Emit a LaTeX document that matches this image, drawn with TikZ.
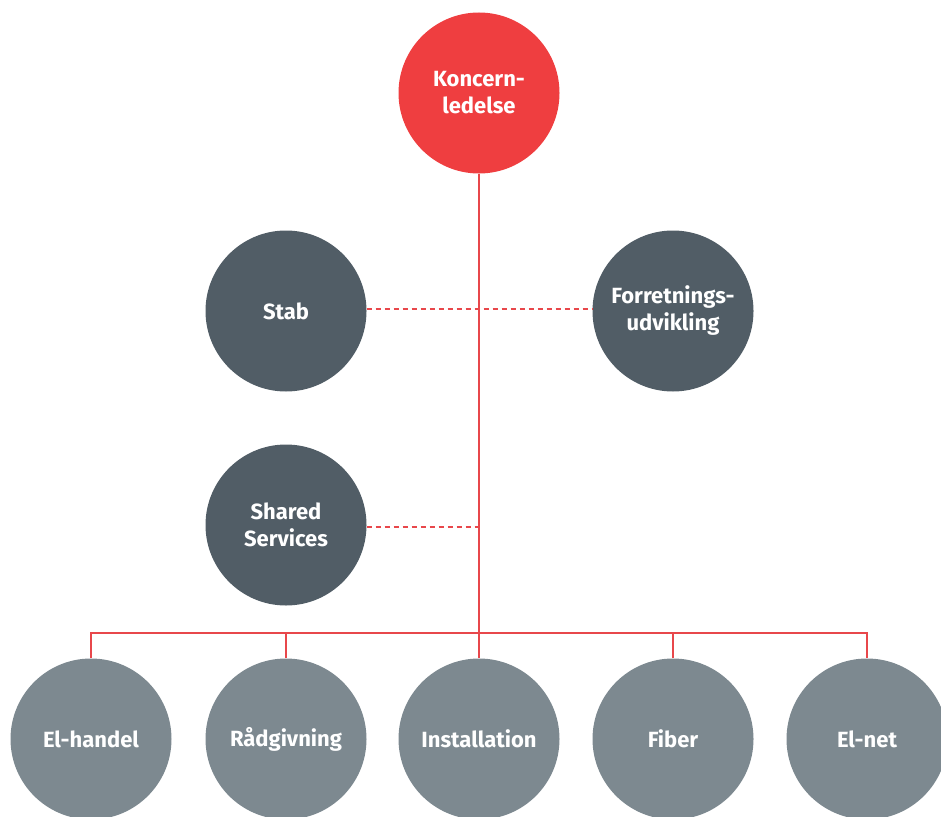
\documentclass[tikz,border=0pt]{standalone}
\usepackage{fontspec}
\setmainfont{Fira Sans}
\begin{document}
\begin{tikzpicture}[x=1pt,y=-1pt,
  circ/.style={circle,minimum size=161pt,inner sep=0pt,text=white,font=\fontsize{22}{27}\selectfont\bfseries,align=center},
  topc/.style={circ,fill=redc},
  darkc/.style={circ,fill=darkc},
  lightc/.style={circ,fill=lightc},
  link/.style={draw=linec,line width=1.3pt},
  dlink/.style={draw=linec,line width=1.3pt,dash pattern=on 5pt off 4pt}]
\definecolor{redc}{HTML}{EF3E40}
\definecolor{darkc}{HTML}{515D66}
\definecolor{lightc}{HTML}{7D8990}
\definecolor{linec}{HTML}{E8474B}
\useasboundingbox (0,0) rectangle (941,816);
\clip (0,0) rectangle (941,816);
\node[topc] (k) at (479,93) {Koncern-\\ledelse};
\node[darkc] (stab) at (286,311) {Stab};
\node[darkc] (forr) at (673,311) {Forretnings-\\udvikling};
\node[darkc] (ss) at (286,525) {Shared\\Services};
\node[lightc] (elh) at (91,739) {El-handel};
\node[lightc] (rad) at (286,739) {Rådgivning};
\node[lightc] (ins) at (479,739) {Installation};
\node[lightc] (fib) at (673,739) {Fiber};
\node[lightc] (eln) at (867,739) {El-net};
\coordinate (busL) at (91,633);
\coordinate (busR) at (867,633);
\coordinate (j1) at (479,309);
\coordinate (j2) at (479,527);
\draw[link] (k.south) -- (ins.north);
\draw[link] (elh.north) |- (busR) -- (eln.north);
\draw[link] (rad.north) -- (rad.north |- busL);
\draw[link] (fib.north) -- (fib.north |- busL);
\draw[dlink] (stab.east |- j1) -- (forr.west |- j1);
\draw[dlink] (ss.east |- j2) -- (j2);
\end{tikzpicture}
\end{document}
